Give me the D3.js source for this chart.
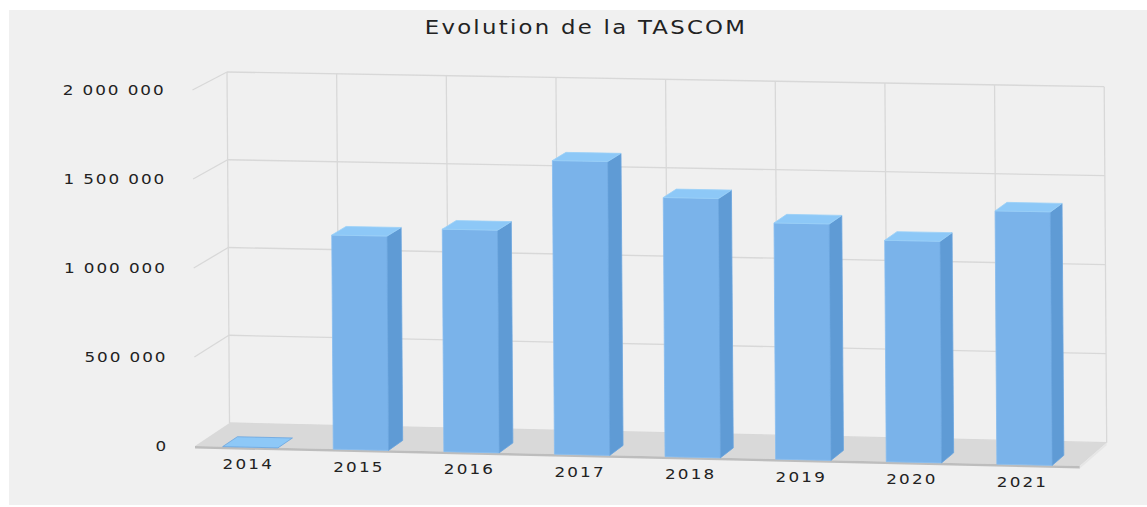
<!DOCTYPE html>
<html lang="fr">
<head>
  <meta charset="utf-8" />
  <title>Evolution de la TASCOM</title>
  <script src="https://cdnjs.cloudflare.com/ajax/libs/d3/7.8.5/d3.min.js"></script>
  <style>
    body { margin: 0; background: #fff; }
    text { font-family: "DejaVu Sans", sans-serif; fill: #222; }
  </style>
</head>
<body>
<svg id="chart" width="1147" height="507"></svg>
<script>
  // data
  const years = ["2014", "2015", "2016", "2017", "2018", "2019", "2020", "2021"];
  const tascom = [0, 1200000, 1245000, 1640000, 1445000, 1315000, 1230000, 1405000];
  const yMax = 2000000;
  const title = "Evolution de la TASCOM";

  const svg = d3.select("#chart");
  const fr = d3.formatLocale({ decimal: ",", thousands: " ", grouping: [3], currency: ["", " €"] });
  const fmt = fr.format(",");

  // category axis -> c in [0, 8], value -> h in [0, 1]
  const x = d3.scaleBand().domain(years).range([0, years.length])
    .paddingInner(0.5).paddingOuter(0.25);
  const y = d3.scaleLinear().domain([0, yMax]).range([0, 1]);

  // oblique 3D projection fitted on the picture (z: 0 = back wall, 1 = front of floor)
  function P(c, h, z) {
    const bx = 229.5 + c * 109.65, by = 423 + c * 2.46;
    const fx = 195 + c * 110.6, fy = 446 + c * 2.5;
    const px = bx + (fx - bx) * z, py = by + (fy - by) * z;
    const H = 351 + 0.62 * c + 5 * z;
    return [px - 2.5 * h, py - h * H];
  }
  const poly = pts => pts.map(p => p.join(",")).join(" ");
  const nCat = years.length;
  const zBack = 0.57, zFront = 1;

  svg.append("rect").attr("x", 9).attr("y", 10).attr("width", 1138).attr("height", 495)
    .attr("fill", "#f0f0f0");

  // back wall grid
  const grid = svg.append("g").attr("stroke", "#d8d8d8").attr("stroke-width", 1.3).attr("fill", "none");
  y.ticks(4).forEach(t => {
    const a = P(0, y(t), 0), b = P(nCat, y(t), 0);
    grid.append("line").attr("x1", a[0]).attr("y1", a[1]).attr("x2", b[0]).attr("y2", b[1]);
    if (t > 0) {
      const f = P(0, y(t), 1);
      grid.append("line").attr("x1", a[0]).attr("y1", a[1]).attr("x2", f[0]).attr("y2", f[1]);
    }
  });
  d3.range(nCat + 1).forEach(c => {
    const a = P(c, 0, 0), b = P(c, 1, 0);
    grid.append("line").attr("x1", a[0]).attr("y1", a[1]).attr("x2", b[0]).attr("y2", b[1]);
  });

  // floor
  const f0 = P(0, 0, 0), f1 = P(nCat, 0, 0), f2 = P(nCat, 0, 1), f3 = P(0, 0, 1);
  svg.append("polygon").attr("points", poly([f0, f1, f2, f3])).attr("fill", "#d9d9d9");
  svg.append("polygon")
    .attr("points", poly([f3, f2, [f2[0], f2[1] + 2.5], [f3[0], f3[1] + 2.5]]))
    .attr("fill", "#bdbdbd");
  svg.append("polygon")
    .attr("points", poly([f1, f2, [f2[0], f2[1] + 2.5], [f1[0], f1[1] + 2.5]]))
    .attr("fill", "#e6e6e6");

  // bars
  const bars = svg.append("g");
  years.forEach((yr, i) => {
    const c0 = x(yr), c1 = x(yr) + x.bandwidth(), h = y(tascom[i]);
    const g = bars.append("g").attr("stroke-width", 0.8).attr("stroke-linejoin", "round");
    if (h > 0) {
      g.append("polygon")
        .attr("points", poly([P(c0, 0, zFront), P(c1, 0, zFront), P(c1, h, zFront), P(c0, h, zFront)]))
        .attr("fill", "#7ab3ea").attr("stroke", "#86bdf0");
      g.append("polygon")
        .attr("points", poly([P(c1, 0, zFront), P(c1, 0, zBack), P(c1, h, zBack), P(c1, h, zFront)]))
        .attr("fill", "#5f9bd5").attr("stroke", "#6aa5de");
    }
    g.append("polygon")
      .attr("points", poly([P(c0, h, zFront), P(c1, h, zFront), P(c1, h, zBack), P(c0, h, zBack)]))
      .attr("fill", "#8dc8f7").attr("stroke", h > 0 ? "#9ad0f8" : "#6aa5de");
  });

  // value labels on the left
  y.ticks(4).forEach(t => {
    const p = P(0, y(t), 1);
    svg.append("text")
      .attr("transform", "translate(" + (p[0] - 27) + "," + (p[1] + 5) + ") scale(1.2,1)")
      .attr("text-anchor", "end")
      .attr("font-size", 14)
      .attr("letter-spacing", 1.6)
      .text(fmt(t));
  });

  // category labels
  years.forEach(yr => {
    const p = P(x(yr) + x.bandwidth() / 2, 0, 1);
    svg.append("text")
      .attr("transform", "translate(" + (p[0] - 2) + "," + (p[1] + 22) + ") scale(1.2,1)")
      .attr("text-anchor", "middle")
      .attr("font-size", 14)
      .attr("letter-spacing", 1.8)
      .text(yr);
  });

  svg.append("text")
    .attr("transform", "translate(586,34) scale(1.2,1)")
    .attr("text-anchor", "middle")
    .attr("font-size", 19)
    .attr("letter-spacing", 1.9)
    .text(title);
</script>
</body>
</html>
